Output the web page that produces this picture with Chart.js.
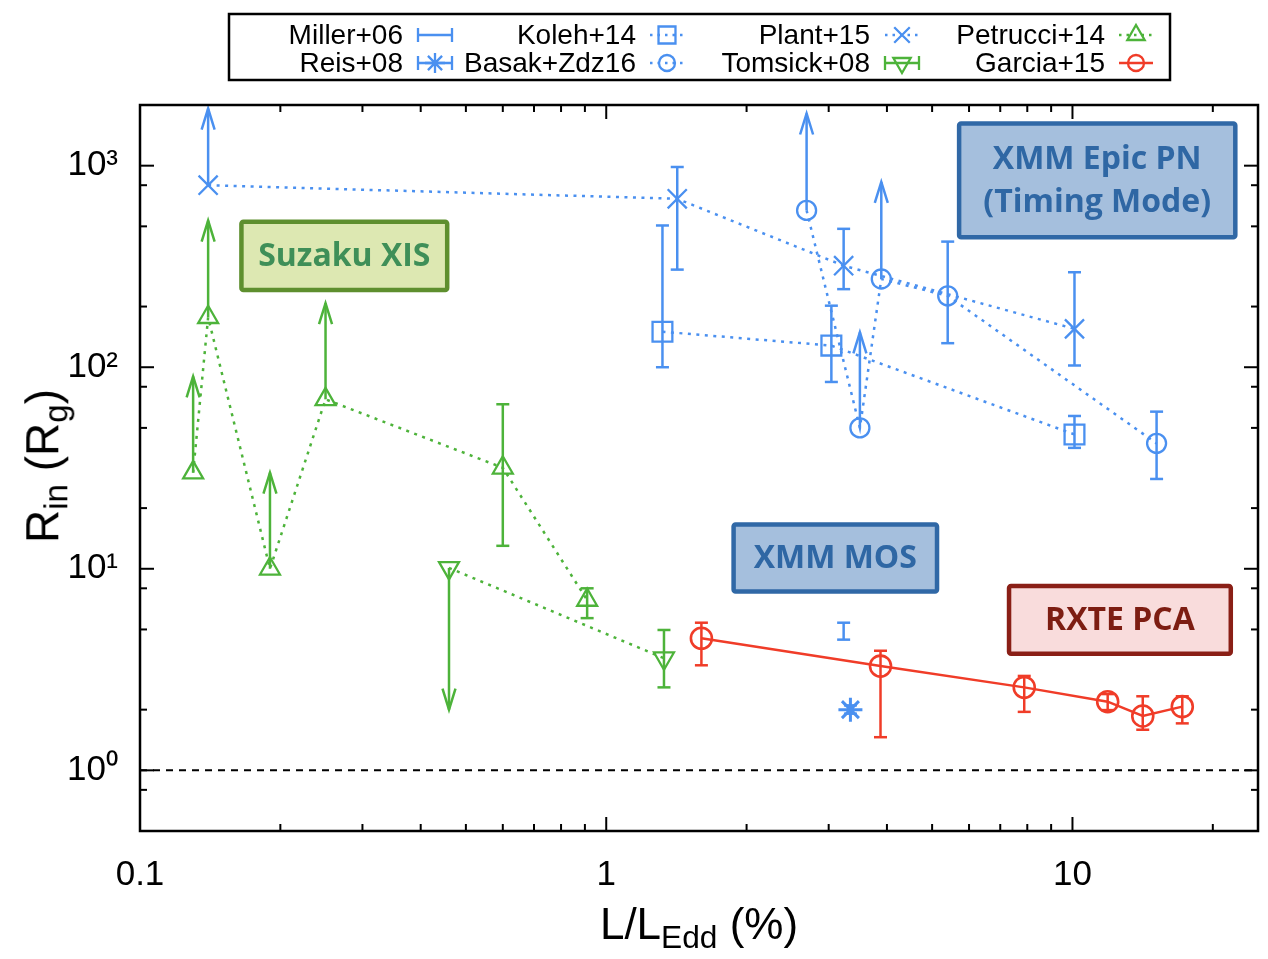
<!DOCTYPE html>
<html>
<head>
<meta charset="utf-8">
<script src="https://cdn.jsdelivr.net/npm/chart.js@4.4.0/dist/chart.umd.min.js"></script>
<style>
html,body{margin:0;padding:0;background:#fff;}
#wrap{position:relative;width:1268px;height:959px;overflow:hidden;}
#c{position:absolute;left:0;top:0;}
.axt{position:absolute;font-family:"Liberation Sans",Arial,sans-serif;color:#000;white-space:nowrap;line-height:1;}
.axt sub{font-size:72%;vertical-align:-0.28em;}
#xt{left:140px;width:1118px;top:902px;text-align:center;font-size:44px;}
#yt{left:46px;top:466px;font-size:46px;transform:translate(-50%,-50%) rotate(-90deg);}
</style>
</head>
<body>
<div id="wrap">
<canvas id="c" width="1268" height="959"></canvas>
<div class="axt" id="xt">L/L<sub>Edd</sub> (%)</div>
<div class="axt" id="yt">R<sub>in</sub> (R<sub>g</sub>)</div>
</div>
<script>
// ---------- axes ----------
const xMin = 0.1, xMax = 25, yMin = 0.5, yMax = 2000;
const xMajorTicks = [0.1, 1, 10];
const xTickLabels = ['0.1', '1', '10'];
const xMinorTicks = [0.2,0.3,0.4,0.5,0.6,0.7,0.8,0.9,2,3,4,5,6,7,8,9,20];
const yMajorTicks = [1, 10, 100, 1000];
const yTickLabels = ['10\u2070', '10\u00B9', '10\u00B2', '10\u00B3'];
const yMinorTicks = [0.8, 2, 5, 8, 20, 50, 80, 200, 500, 800];
const refLineY = 1;

// ---------- series (x = L/LEdd %, y = Rin in Rg) ----------
const millerX = [3.23];
const millerY = [4.95];
const millerLo = [4.45];
const millerHi = [5.40];

const reisX = [3.34];
const reisY = [2.0];
const reisLo = [1.91];
const reisHi = [2.10];

const kolehX = [1.32, 3.04, 10.1];
const kolehY = [150, 128, 46.4];
const kolehLo = [100, 84.5, 39.8];
const kolehHi = [505, 202, 57.3];

const basakX = [2.69, 3.50, 3.89, 5.40, 15.15];
const basakY = [600, 50, 274, 226, 41.9];
const basakLo = [null, null, null, 131.6, 27.9];
const basakHi = [1815, 149, 830, 420, 60.2];
const basakLim = ['up', 'up', 'up', null, null];

const plantX = [0.14, 1.42, 3.23, 10.1];
const plantY = [800, 685, 319, 155];
const plantLo = [null, 305, 244, 102];
const plantHi = [1920, 985, 486, 296];
const plantLim = ['up', null, null, null];

const tomsickX = [0.46, 1.33];
const tomsickY = [10.1, 3.6];
const tomsickLo = [2.0, 2.58];
const tomsickHi = [null, 4.97];
const tomsickLim = ['down', null];

const petrucciX = [0.13, 0.14, 0.19, 0.25, 0.60, 0.91];
const petrucciY = [30, 177, 10, 69.3, 31.7, 7.0];
const petrucciLo = [null, null, null, null, 13.0, 5.69];
const petrucciHi = [90, 534, 30, 208, 65.5, 8.0];
const petrucciLim = ['up', 'up', 'up', 'up', null, null];

const garciaX = [1.6, 3.875, 7.88, 11.9, 14.15, 17.2];
const garciaY = [4.52, 3.29, 2.58, 2.19, 1.86, 2.07];
const garciaLo = [3.32, 1.46, 1.95, 1.99, 1.59, 1.71];
const garciaHi = [5.40, 3.92, 2.94, 2.39, 2.33, 2.33];

const legendLabels = ['Miller+06', 'Koleh+14', 'Plant+15', 'Petrucci+14',
                      'Reis+08', 'Basak+Zdz16', 'Tomsick+08', 'Garcia+15'];

// ---------- instrument annotation boxes (data coordinates) ----------
const boxText = [['Suzaku XIS'], ['XMM Epic PN', '(Timing Mode)'], ['XMM MOS'], ['RXTE PCA']];
const boxXLeft = [0.1632, 5.65, 1.855, 7.23];
const boxXRight = [0.461, 22.6, 5.18, 22.1];
const boxYTop = [540, 1661, 17.0, 8.42];
const boxYBottom = [235.5, 430, 7.51, 3.69];

// ---------- styles ----------
const BLUE = '#4a90f0', GREEN = '#4db33a', RED = '#f03c28';
const boxStyles = [
  {fill: '#dde8b2', stroke: '#5e8f2e', text: '#3f8f58'},
  {fill: '#a5bfdd', stroke: '#3068a6', text: '#2f67a4'},
  {fill: '#a5bfdd', stroke: '#3068a6', text: '#2f67a4'},
  {fill: '#f9dcdc', stroke: '#8a1f16', text: '#7d1d12'}
];

function pts(xs, ys) { return xs.map((x, i) => ({x: x, y: ys[i]})); }

function ds(label, xs, ys, lo, hi, lim, color, style, opts) {
  return Object.assign({
    label: label,
    data: pts(xs, ys),
    showLine: false,
    borderColor: color,
    borderWidth: 2.5,
    borderDash: [3, 5.5],
    tension: 0,
    pointStyle: style,
    pointRadius: 10,
    pointBorderWidth: 2.3,
    pointBorderColor: color,
    pointBackgroundColor: 'rgba(0,0,0,0)',
    errX: xs, errY: ys, errLo: lo, errHi: hi, errLim: lim
  }, opts || {});
}

const datasets = [
  ds('Miller+06', millerX, millerY, millerLo, millerHi, null, BLUE, 'circle',
     {pointRadius: 0, legend: {line: 'solid', caps: true, marker: null}}),
  ds('Reis+08', reisX, reisY, reisLo, reisHi, null, BLUE, 'star',
     {pointRadius: 12, pointBorderWidth: 3, legend: {line: 'solid', caps: true, marker: 'star'}}),
  ds('Koleh+14', kolehX, kolehY, kolehLo, kolehHi, null, BLUE, 'rect',
     {showLine: true, pointRadius: 14, legend: {line: 'dotted', caps: false, marker: 'rect'}}),
  ds('Basak+Zdz16', basakX, basakY, basakLo, basakHi, basakLim, BLUE, 'circle',
     {showLine: true, pointRadius: 9.5, legend: {line: 'dotted', caps: false, marker: 'circle'}}),
  ds('Plant+15', plantX, plantY, plantLo, plantHi, plantLim, BLUE, 'crossRot',
     {showLine: true, pointRadius: 13.5, legend: {line: 'dotted', caps: false, marker: 'crossRot'}}),
  ds('Tomsick+08', tomsickX, tomsickY, tomsickLo, tomsickHi, tomsickLim, GREEN, 'triangle',
     {showLine: true, pointRadius: 11.5, pointRotation: 180, legend: {line: 'solid', caps: true, marker: 'triangleDown'}}),
  ds('Petrucci+14', petrucciX, petrucciY, petrucciLo, petrucciHi, petrucciLim, GREEN, 'triangle',
     {showLine: true, pointRadius: 11.5, legend: {line: 'dotted', caps: false, marker: 'triangle'}}),
  ds('Garcia+15', garciaX, garciaY, garciaLo, garciaHi, null, RED, 'circle',
     {showLine: true, borderDash: [], borderWidth: 2.5, pointRadius: 10.5, pointBorderWidth: 2.6,
      legend: {line: 'solid', caps: false, marker: 'circle'}})
];

// ---------- helpers ----------
function seg(ctx, x1, y1, x2, y2) { ctx.beginPath(); ctx.moveTo(x1, y1); ctx.lineTo(x2, y2); ctx.stroke(); }

function drawMarker(ctx, style, x, y, r) {
  ctx.beginPath();
  const s = Math.SQRT1_2 * r;
  switch (style) {
    case 'circle': ctx.arc(x, y, r, 0, Math.PI * 2); break;
    case 'rect': ctx.rect(x - s, y - s, 2 * s, 2 * s); break;
    case 'crossRot':
      ctx.moveTo(x - s, y - s); ctx.lineTo(x + s, y + s);
      ctx.moveTo(x - s, y + s); ctx.lineTo(x + s, y - s); break;
    case 'star':
      ctx.moveTo(x - s, y - s); ctx.lineTo(x + s, y + s);
      ctx.moveTo(x - s, y + s); ctx.lineTo(x + s, y - s);
      ctx.moveTo(x - r, y); ctx.lineTo(x + r, y);
      ctx.moveTo(x, y - r); ctx.lineTo(x, y + r); break;
    case 'triangle':
    case 'triangleDown': {
      const d = style === 'triangle' ? 1 : -1;
      ctx.moveTo(x, y - d * r);
      ctx.lineTo(x + r * 0.866, y + d * r * 0.5);
      ctx.lineTo(x - r * 0.866, y + d * r * 0.5);
      ctx.closePath(); break;
    }
  }
  ctx.stroke();
}

// ---------- plugins ----------
const underPlugin = {
  id: 'under',
  beforeDatasetsDraw(chart) {
    const {ctx, chartArea: a, scales: {x, y}} = chart;
    ctx.save();
    ctx.strokeStyle = '#000'; ctx.lineWidth = 2; ctx.setLineDash([7, 6]);
    const py = y.getPixelForValue(refLineY);
    seg(ctx, a.left, py, a.right, py);
    ctx.setLineDash([]);
    chart.data.datasets.forEach(d => {
      ctx.strokeStyle = d.borderColor; ctx.lineWidth = 2.5; ctx.lineCap = 'butt';
      d.errX.forEach((xv, i) => {
        const px = x.getPixelForValue(xv), pyv = y.getPixelForValue(d.errY[i]);
        const lim = d.errLim ? d.errLim[i] : null;
        if (lim === 'up' || lim === 'down') {
          const tip = y.getPixelForValue(lim === 'up' ? d.errHi[i] : d.errLo[i]);
          const dir = lim === 'up' ? 1 : -1;
          seg(ctx, px, pyv, px, tip);
          ctx.beginPath();
          ctx.moveTo(px - 6.5, tip + dir * 21); ctx.lineTo(px, tip); ctx.lineTo(px + 6.5, tip + dir * 21);
          ctx.stroke();
        } else {
          const lo = d.errLo[i], hi = d.errHi[i];
          if (lo == null || hi == null) return;
          const pl = y.getPixelForValue(lo), ph = y.getPixelForValue(hi);
          seg(ctx, px, pl, px, ph);
          seg(ctx, px - 6.5, pl, px + 6.5, pl);
          seg(ctx, px - 6.5, ph, px + 6.5, ph);
        }
      });
    });
    ctx.restore();
  }
};

const overPlugin = {
  id: 'over',
  afterDatasetsDraw(chart) {
    const {ctx, chartArea: a, scales: {x, y}} = chart;
    ctx.save();
    boxText.forEach((lines, i) => {
      const st = boxStyles[i];
      const l = x.getPixelForValue(boxXLeft[i]), r = x.getPixelForValue(boxXRight[i]);
      const t = y.getPixelForValue(boxYTop[i]), b = y.getPixelForValue(boxYBottom[i]);
      ctx.fillStyle = st.fill;
      ctx.strokeStyle = st.stroke; ctx.lineWidth = 4.5;
      ctx.beginPath();
      ctx.roundRect(l + 2.25, t + 2.25, r - l - 4.5, b - t - 4.5, 2);
      ctx.fill(); ctx.stroke();
      ctx.fillStyle = st.text;
      ctx.font = 'bold 32px "Open Sans", sans-serif';
      ctx.textAlign = 'center'; ctx.textBaseline = 'middle';
      const cx = (l + r) / 2, cy = (t + b) / 2, lh = 43;
      lines.forEach((s, k) => {
        ctx.fillText(s, cx, cy + (k - (lines.length - 1) / 2) * lh + 1);
      });
    });
    ctx.strokeStyle = '#000'; ctx.lineWidth = 2.5;
    ctx.strokeRect(a.left, a.top, a.right - a.left, a.bottom - a.top);
    ctx.lineWidth = 2;
    const xt = (v, len) => {
      const p = x.getPixelForValue(v);
      seg(ctx, p, a.bottom, p, a.bottom - len);
      seg(ctx, p, a.top, p, a.top + len);
    };
    const yt = (v, len) => {
      const p = y.getPixelForValue(v);
      seg(ctx, a.left, p, a.left + len, p);
      seg(ctx, a.right, p, a.right - len, p);
    };
    xMajorTicks.forEach(v => xt(v, 14));
    xMinorTicks.forEach(v => xt(v, 7));
    yMajorTicks.forEach(v => yt(v, 14));
    yMinorTicks.forEach(v => yt(v, 7));
    ctx.restore();
  },
  afterDraw(chart) {
    const ctx = chart.ctx;
    ctx.save();
    ctx.strokeStyle = '#000'; ctx.lineWidth = 2.5;
    ctx.strokeRect(229, 14, 941, 66);
    const textRight = [403, 636, 870, 1105];
    const symX = [435, 667, 902, 1136];
    const rowY = [35, 63];
    ctx.font = '28px "Liberation Sans", Arial, sans-serif';
    ctx.textAlign = 'right'; ctx.textBaseline = 'middle';
    legendLabels.forEach((lab, k) => {
      const col = k % 4, row = Math.floor(k / 4);
      const d = chart.data.datasets.find(s => s.label === lab);
      const ty = rowY[row];
      ctx.fillStyle = '#000';
      ctx.fillText(lab, textRight[col], ty + 1);
      const sx = symX[col];
      ctx.strokeStyle = d.borderColor; ctx.lineWidth = 2.3;
      const lg = d.legend;
      if (lg.line === 'dotted') { ctx.setLineDash([2.5, 5]); seg(ctx, sx - 17, ty, sx + 17, ty); ctx.setLineDash([]); }
      else if (lg.line === 'solid') { seg(ctx, sx - 17, ty, sx + 17, ty); }
      if (lg.caps) { seg(ctx, sx - 17, ty - 7, sx - 17, ty + 7); seg(ctx, sx + 17, ty - 7, sx + 17, ty + 7); }
      if (lg.marker) {
        const rr = lg.marker === 'rect' ? 12 : (lg.marker === 'crossRot' ? 11 : (lg.marker.indexOf('triangle') === 0 ? 10 : (lg.marker === 'star' ? 10 : 8)));
        drawMarker(ctx, lg.marker, sx, ty, rr);
      }
    });
    ctx.restore();
  }
};

function labelFor(v, ticks, labels) {
  let best = 0;
  ticks.forEach((t, i) => { if (Math.abs(Math.log10(t) - Math.log10(v)) < Math.abs(Math.log10(ticks[best]) - Math.log10(v))) best = i; });
  return labels[best];
}

new Chart(document.getElementById('c'), {
  type: 'scatter',
  data: {datasets: datasets},
  options: {
    responsive: false,
    animation: false,
    devicePixelRatio: 1,
    layout: {autoPadding: false, padding: {top: 105, right: 10, left: 0, bottom: 0}},
    plugins: {legend: {display: false}, tooltip: {enabled: false}},
    elements: {line: {tension: 0}},
    scales: {
      x: {
        type: 'logarithmic', position: 'bottom', min: xMin, max: xMax,
        afterBuildTicks: s => { s.ticks = xMajorTicks.map(v => ({value: v})); },
        afterFit: s => { s.height = 128; s.paddingLeft = 0; s.paddingRight = 0; },
        ticks: {autoSkip: false, maxRotation: 0, padding: 23, color: '#000',
                font: {family: '"Liberation Sans", Arial, sans-serif', size: 35},
                callback: v => labelFor(v, xMajorTicks, xTickLabels)},
        grid: {display: false, drawTicks: false},
        border: {display: false}
      },
      y: {
        type: 'logarithmic', position: 'left', min: yMin, max: yMax,
        afterBuildTicks: s => { s.ticks = yMajorTicks.map(v => ({value: v})); },
        afterFit: s => { s.width = 140; s.paddingTop = 0; s.paddingBottom = 0; },
        ticks: {autoSkip: false, padding: 22, color: '#000',
                font: {family: '"Liberation Sans", Arial, sans-serif', size: 35},
                callback: v => labelFor(v, yMajorTicks, yTickLabels)},
        grid: {display: false, drawTicks: false},
        border: {display: false}
      }
    }
  },
  plugins: [underPlugin, overPlugin]
});
</script>
</body>
</html>
